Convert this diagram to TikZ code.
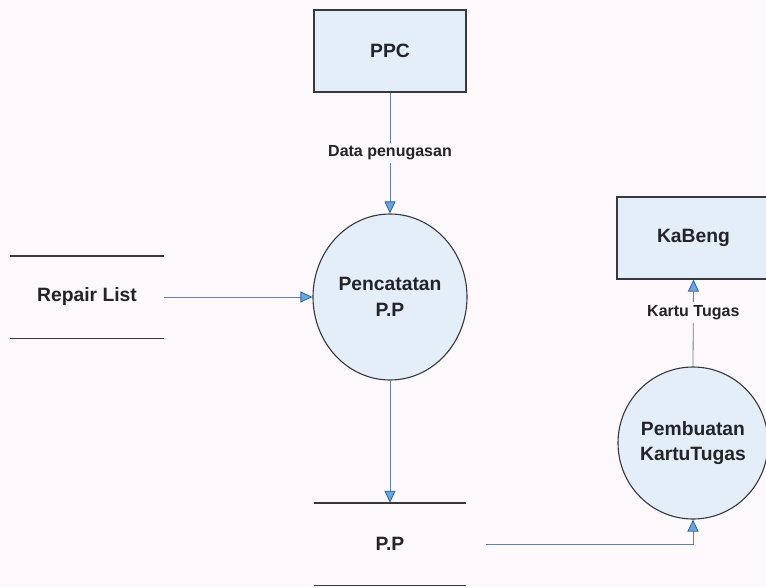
\documentclass[tikz,border=0pt]{standalone}
\usepackage{fontspec}
\setmainfont{Liberation Sans}
\usetikzlibrary{arrows.meta,shapes.geometric}

\definecolor{paper}{RGB}{253,248,252}
\definecolor{boxfill}{RGB}{228,238,249}
\definecolor{edge}{RGB}{55,55,62}
\definecolor{flowcol}{RGB}{95,128,168}
\definecolor{tipfill}{RGB}{105,165,220}
\definecolor{tipedge}{RGB}{40,100,170}
\definecolor{inkcol}{RGB}{35,35,40}

\tikzset{
  bigtext/.style={font=\bfseries\fontsize{19.3}{25.5}\selectfont, text=inkcol, align=center},
  entity/.style={bigtext, draw=edge, line width=1.2pt, fill=boxfill, inner sep=0pt},
  process/.style={bigtext, ellipse, draw=edge, line width=1.1pt, fill=boxfill, inner sep=0pt},
  datastore/.style={bigtext, inner sep=0pt},
  storeline/.style={draw=edge, line width=1.4pt},
  flow/.style={draw=flowcol, line width=0.8pt,
    -{Triangle[length=12pt,width=11pt,fill=tipfill,color=tipedge]}},
  flowlabel/.style={font=\bfseries\fontsize{16}{19}\selectfont, text=inkcol,
    fill=paper, inner sep=3pt}
}

\begin{document}
\begin{tikzpicture}[x=1pt,y=-1pt]
  % page
  \fill[paper] (0,0) rectangle (766,587);
  \useasboundingbox (0,0) rectangle (766,587);

  % external entities
  \node[entity, minimum width=152pt, minimum height=82pt] (ppc) at (390,51) {PPC};
  \node[entity, minimum width=153pt, minimum height=82pt] (kabeng) at (693.5,238) {KaBeng};

  % processes
  \node[process, minimum width=154pt, minimum height=166pt] (catat) at (390,297) {Pencatatan\\P.P};
  \node[process, minimum width=150pt, minimum height=152pt] (buat) at (693,443) {Pembuatan\\KartuTugas};

  % data stores
  \node[datastore, minimum width=153pt, minimum height=82pt] (repair) at (87,297) {Repair List};
  \node[datastore, minimum width=152pt, minimum height=82pt] (pp) at (390,544) {P.P};
  \foreach \s in {repair,pp}{
    \draw[storeline] (\s.north west) -- (\s.north east);
    \draw[storeline] (\s.south west) -- (\s.south east);
  }

  % data flows
  \draw[flow] (ppc.south) -- node[flowlabel] {Data penugasan} (catat.north);
  \draw[flow] (repair.east) -- (catat.west);
  \draw[flow] (catat.south) -- (pp.north);
  \draw[flow] ([xshift=20pt]pp.east) -| (buat.south);
  \draw[flow] (buat.north) -- node[flowlabel, pos=0.62] {Kartu Tugas} (kabeng.south);
\end{tikzpicture}
\end{document}
